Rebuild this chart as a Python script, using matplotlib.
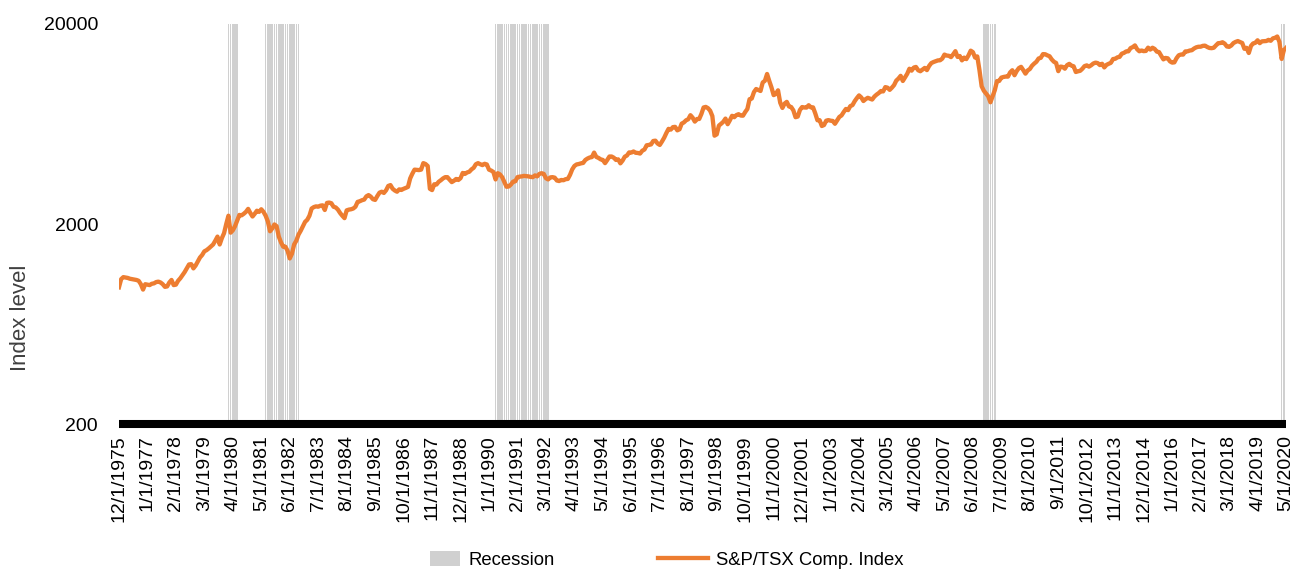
import pandas as pd
import matplotlib.pyplot as plt
import numpy as np
from matplotlib.patches import Patch, Rectangle
from matplotlib.lines import Line2D
from matplotlib.legend_handler import HandlerPatch
from matplotlib.ticker import FixedLocator, FixedFormatter, NullLocator

plt.rcParams['font.family'] = ['Liberation Sans', 'DejaVu Sans']

# monthly observations, 12/1/1975 -> 5/1/2020
months = pd.date_range("1975-12-01", "2020-05-01", freq="MS")

# S&P/TSX Composite, month-end level
tsx = [
    965,
    1060, 1085, 1080, 1075, 1065, 1060, 1055, 1050, 1040, 1000, 940, 1000,          # 1976
    995, 990, 1005, 1010, 1025, 1030, 1020, 1000, 970, 975, 1020, 1050,             # 1977
    990, 995, 1040, 1070, 1110, 1150, 1200, 1255, 1260, 1200, 1240, 1300,           # 1978
    1360, 1400, 1460, 1480, 1510, 1545, 1580, 1650, 1730, 1580, 1700, 1800,         # 1979
    2000, 2200, 1810, 1860, 1950, 2080, 2220, 2210, 2250, 2300, 2380, 2270,         # 1980
    2180, 2250, 2330, 2300, 2370, 2300, 2200, 2060, 1840, 1900, 1990, 1950,         # 1981
    1730, 1620, 1540, 1540, 1470, 1345, 1420, 1580, 1650, 1770, 1850, 1950,         # 1982
    2050, 2100, 2200, 2390, 2430, 2450, 2440, 2470, 2480, 2350, 2550, 2560,         # 1983
    2540, 2440, 2420, 2360, 2270, 2200, 2140, 2340, 2360, 2370, 2390, 2440,         # 1984
    2580, 2600, 2630, 2650, 2750, 2790, 2740, 2660, 2640, 2760, 2870, 2900,         # 1985
    2860, 2950, 3100, 3130, 3000, 2940, 2900, 2980, 2960, 3000, 3030, 3066,         # 1986
    3380, 3570, 3740, 3730, 3720, 3740, 4030, 3990, 3900, 3000, 2955, 3160,         # 1987
    3150, 3250, 3310, 3380, 3430, 3430, 3330, 3240, 3290, 3360, 3320, 3390,         # 1988
    3600, 3560, 3620, 3650, 3750, 3820, 3980, 4030, 3980, 3940, 4000, 3970,         # 1989
    3740, 3700, 3640, 3340, 3590, 3540, 3430, 3240, 3070, 3080, 3150, 3257,         # 1990
    3270, 3430, 3450, 3460, 3480, 3470, 3460, 3440, 3430, 3500, 3460, 3560,         # 1991
    3590, 3560, 3390, 3340, 3420, 3430, 3410, 3300, 3280, 3320, 3310, 3350,         # 1992
    3360, 3520, 3750, 3900, 3970, 3990, 4020, 4040, 4180, 4250, 4300, 4321,         # 1993
    4550, 4330, 4280, 4210, 4180, 4030, 4180, 4350, 4350, 4290, 4180, 4210,         # 1994
    4020, 4150, 4340, 4400, 4560, 4550, 4610, 4540, 4530, 4500, 4650, 4714,         # 1995
    4950, 4970, 5000, 5200, 5220, 5050, 4970, 5170, 5400, 5700, 5980, 5927,         # 1996
    6100, 6120, 5880, 5950, 6350, 6440, 6600, 6680, 7000, 6800, 6500, 6699,         # 1997
    6700, 7100, 7650, 7700, 7590, 7370, 6930, 5530, 5614, 6210, 6340, 6486,         # 1998
    6730, 6310, 6600, 6950, 6840, 7010, 7080, 6970, 6960, 7260, 7520, 8414,         # 1999
    8480, 9130, 9460, 9350, 9250, 10200, 10400, 11250, 10380, 9640, 8820, 8934,     # 2000
    9320, 8080, 7610, 8000, 8160, 7740, 7690, 7400, 6840, 6890, 7430, 7688,         # 2001
    7650, 7640, 7850, 7660, 7660, 7150, 6600, 6610, 6180, 6250, 6570, 6615,         # 2002
    6570, 6550, 6340, 6590, 6860, 6980, 7260, 7520, 7420, 7770, 7860, 8221,         # 2003
    8520, 8790, 8590, 8240, 8420, 8550, 8460, 8380, 8670, 8870, 9030, 9247,         # 2004
    9200, 9670, 9610, 9370, 9610, 9900, 10420, 10670, 11010, 10380, 10820, 11272,   # 2005
    11950, 11690, 12110, 12200, 11740, 11610, 11830, 12060, 11760, 12340, 12750, 12908,  # 2006
    13030, 13150, 13170, 13420, 14060, 13910, 13870, 13660, 14100, 14625, 13690, 13833,  # 2007
    13160, 13580, 13350, 13940, 14710, 14470, 13590, 13770, 11750, 9760, 9270, 8988,     # 2008
    8700, 8120, 8720, 9330, 10370, 10380, 10790, 10870, 10920, 10910, 11450, 11746,      # 2009
    11090, 11630, 12040, 12210, 11760, 11290, 11710, 11910, 12370, 12680, 12950, 13443,  # 2010
    13550, 14140, 14120, 13940, 13800, 13300, 12950, 12770, 11620, 12250, 12200, 11955,  # 2011
    12450, 12640, 12390, 12290, 11510, 11600, 11670, 11950, 12320, 12420, 12240, 12434,  # 2012
    12690, 12820, 12750, 12460, 12650, 12130, 12490, 12650, 12790, 13360, 13400, 13622,  # 2013
    13700, 14210, 14340, 14590, 14600, 15150, 15330, 15630, 14960, 14610, 14740, 14632,  # 2014
    14670, 15230, 14900, 15220, 15010, 14550, 14470, 13860, 13310, 13530, 13470, 13010,  # 2015
    12820, 12860, 13490, 13950, 14070, 14060, 14580, 14600, 14730, 14790, 15080, 15288,  # 2016
    15390, 15400, 15550, 15590, 15350, 15180, 15140, 15210, 15630, 16030, 16070, 16209,  # 2017
    15950, 15440, 15370, 15610, 16060, 16280, 16430, 16260, 16070, 15030, 15200, 14323,  # 2018
    15540, 16000, 16100, 16580, 16040, 16380, 16410, 16440, 16660, 16480, 16950, 17063,  # 2019
    17320, 16260, 13380, 14780, 15190,                                                   # 2020
]

# recession periods (first month, last month)
recessions = [("1980-02", "1980-06"), ("1981-07", "1982-10"), ("1990-04", "1992-04"),
              ("2008-11", "2009-04"), ("2020-03", "2020-04")]
recession_level = 20000

y_ticks = [200, 2000, 20000]

data = pd.DataFrame({"tsx": tsx}, index=months)
data["rec"] = 0.0
for start, end in recessions:
    data.loc[start:end, "rec"] = recession_level

x = np.arange(len(data))
labels = [f"{d.month}/1/{d.year}" for d in data.index]

fig = plt.figure(figsize=(12.93, 5.74), dpi=100)
ax = fig.add_axes([0.092, 0.2613, 0.9026, 0.6969])

ax.set_yscale("log")
rec = data["rec"].values
ax.bar(x[rec > 0], rec[rec > 0], width=0.72, bottom=1, color="#d0d0d0", zorder=1)
ax.plot(x, data["tsx"].values, color="#ed7d31", lw=3.1, zorder=3, solid_joinstyle="round")

ax.set_xlim(0, len(data) - 1)
ax.set_ylim(200, 20000)

ax.yaxis.set_major_locator(FixedLocator(y_ticks))
ax.yaxis.set_major_formatter(FixedFormatter([str(v) for v in y_ticks]))
ax.yaxis.set_minor_locator(NullLocator())
ax.tick_params(axis="y", length=0, pad=15, labelsize=14, colors="black")

tick_pos = x[::13]
ax.set_xticks(tick_pos)
ax.set_xticklabels([labels[i] for i in tick_pos], rotation=90, fontsize=14)
ax.tick_params(axis="x", length=0, pad=8)

for s in ["top", "right", "left"]:
    ax.spines[s].set_visible(False)
ax.spines["bottom"].set_linewidth(5.8)
ax.spines["bottom"].set_color("black")
ax.spines["bottom"].set_capstyle("butt")
ax.spines["bottom"].set_zorder(4)

ax.set_ylabel("Index level", fontsize=16, color="#404040")
ax.yaxis.set_label_coords(-0.075, 0.265)


class NarrowPatch(HandlerPatch):
    def __init__(self):
        def make(legend, orig_handle, xdescent, ydescent, width, height, fontsize):
            return Rectangle((-xdescent + width * 0.4, -ydescent - height * 0.1),
                             width * 0.6, height * 1.2)
        super().__init__(patch_func=make)


rec_handle = Patch(facecolor="#d0d0d0", edgecolor="none")
line_handle = Line2D([0], [0], color="#ed7d31", lw=3.1)
fig.legend([rec_handle, line_handle], ["Recession", "S&P/TSX Comp. Index"], loc="center",
           bbox_to_anchor=(0.508, 0.024), ncol=2, frameon=False, fontsize=13.3,
           handlelength=2.7, columnspacing=5.6, handletextpad=0.45,
           handler_map={Patch: NarrowPatch()})

fig.savefig("out.png", dpi=100)
